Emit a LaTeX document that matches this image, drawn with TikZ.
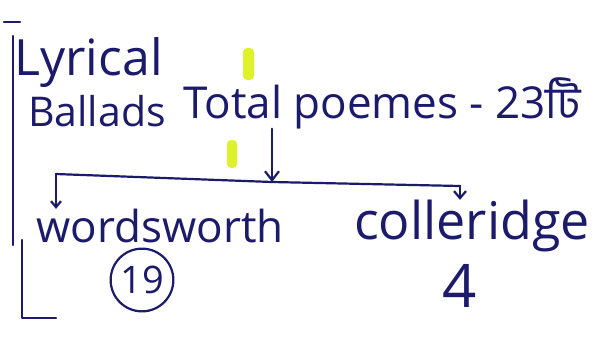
\documentclass[tikz,border=0pt]{standalone}
\usepackage{fontspec}
\setmainfont{Open Sans}
\newfontfamily\bnfont[Script=Bengali]{Hind Siliguri}
\usetikzlibrary{positioning,calc,arrows.meta}
\definecolor{ink}{HTML}{1B1A6B}
\definecolor{marker}{HTML}{DDF22A}
\tikzset{pen/.style={ink, line width=2.2pt, line cap=round, line join=round}}
\tikzset{word/.style={text=ink, inner sep=0pt, font=\fontsize{44}{44}\selectfont}}

\begin{document}
\begin{tikzpicture}[>={Straight Barb[length=9pt,width=14pt]}, x=1pt, y=-1pt]
	\useasboundingbox (0,0) rectangle (615,348);
	\fill[white] (0,0) rectangle (615,348);
	
	% highlighter marks
	\fill[marker, rounded corners=4pt] (243,48) rectangle (254,80);
	\fill[marker, rounded corners=4pt] (227,140) rectangle (237,168);
	
	% left bracket
	\draw[pen] (4,22) -- (20,22);
	\draw[pen] (13,36) -- (13,245);
	\draw[pen] (22,240) -- (22,318) -- (56,318);
	
	\node[word, anchor=base west, font=\fontsize{50}{50}\selectfont] (lyr) at (14,75) {Lyrical};
	\node[word, anchor=base west, font=\fontsize{41}{41}\selectfont] (bal) at (28,126) {Ballads};
	\node[word, anchor=base west] (tot) at (183,118) {Total poemes - 23{\bnfont টি}};
	
	\node[word] (wor) at (160,226) {wordsworth};
	\node[word, font=\fontsize{52}{52}\selectfont] (col) at (472,226) {colleridge};
	\node[word, draw=ink, line width=2.2pt, circle, inner sep=4pt, font=\fontsize{38}{38}\selectfont] (nin) at (142,280) {19};
	\node[word, font=\fontsize{60}{60}\selectfont] (fou) at (460,286) {4};
	
	\coordinate (hub) at (272,182);
	\coordinate (lft) at (56,174);
	\coordinate (rgt) at (460,186);
	
	\draw[pen,->] (tot.south -| hub) -- (hub);
	\draw[pen] (lft) -- (hub) -- (rgt);
	\draw[pen,-{Straight Barb[length=6pt,width=10pt]}] (lft) -- (lft |- wor.north);
	\draw[pen,-{Straight Barb[length=7pt,width=12pt]}] (rgt) -- (rgt |- col.north);
	
\end{tikzpicture}
\end{document}
